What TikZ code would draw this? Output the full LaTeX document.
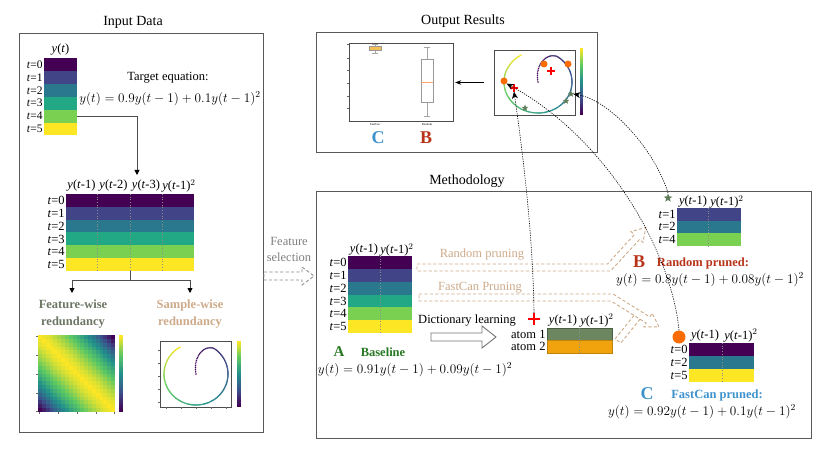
\RequirePackage{fix-cm}
\documentclass[tikz,border=0pt]{standalone}
\usepackage{fontspec}
\setmainfont{Liberation Serif}
\usetikzlibrary{arrows.meta, shapes.geometric, calc}

% viridis rows
\definecolor{vr0}{HTML}{440154}
\definecolor{vr1}{HTML}{414487}
\definecolor{vr2}{HTML}{2A788E}
\definecolor{vr3}{HTML}{22A884}
\definecolor{vr4}{HTML}{7AD151}
\definecolor{vr5}{HTML}{FDE725}
% viridis stops for maps
\definecolor{vs0}{HTML}{440154}
\definecolor{vs1}{HTML}{3B528B}
\definecolor{vs2}{HTML}{21918C}
\definecolor{vs3}{HTML}{5EC962}
\definecolor{vs4}{HTML}{FDE725}
\definecolor{tanline}{RGB}{205,170,138}
\definecolor{fwgray}{RGB}{108,118,100}
\definecolor{basegreen}{RGB}{40,120,35}
\definecolor{randred}{RGB}{183,52,25}
\definecolor{fastblue}{RGB}{62,146,204}
\definecolor{atomgreen}{RGB}{108,134,96}
\definecolor{atomorange}{RGB}{240,163,12}
\definecolor{dotorange}{RGB}{252,108,5}
\definecolor{stargreen}{RGB}{98,126,92}

\newcommand{\ylag}[1]{\textit{y}(\textit{t}-#1)}
\newcommand{\ylagsq}{\textit{y}(\textit{t}-1)$^2$}

% colour "vc" from value in [0,1]
\newcommand{\vircol}[1]{%
  \pgfmathsetmacro\virx{4*min(max(#1,0),0.999)}%
  \pgfmathtruncatemacro\virseg{\virx}%
  \pgfmathtruncatemacro\virpct{100*(1-\virx+\virseg)}%
  \pgfmathtruncatemacro\virnext{\virseg+1}%
  \colorlet{vc}{vs\virseg!\virpct!vs\virnext}}

% colour bar: x1, ytop, x2, ybottom
\newcommand{\vbar}[4]{%
  \foreach \k in {0,...,29} {
    \pgfmathsetmacro\cbv{\k/29}
    \vircol{\cbv}
    \fill[vc] (#1,{#4-(#4-#2)*\k/30}) rectangle (#3,{#4-(#4-#2)*(\k+1)/30-0.3});
  }}

% trajectory dots: cx, cy, rx, ry
\newcommand{\trajdots}[4]{%
  \foreach \k in {0,...,199} {
    \pgfmathsetmacro\ts{\k/199}
    \pgfmathsetmacro\ph{100-340*\ts}
    \pgfmathsetmacro\mm{1-min(\ts/0.14,1)}
    \pgfmathsetmacro\rr{1-\mm*\mm}
    \vircol{\ts}
    \fill[vc] ({#1+#3*\rr*cos(\ph)},{#2-#4*\rr*sin(\ph)}) circle (0.85);
  }}

\begin{document}
\begin{tikzpicture}[x=1pt, y=-1pt,
    panel/.style={draw=black!65, line width=0.9pt, rectangle, inner sep=0pt},
    ptitle/.style={font=\fontsize{14}{16}\selectfont},
    txt/.style={font=\fontsize{12.5}{14}\selectfont, inner sep=1pt},
    eqn/.style={font=\fontsize{13.2}{15}\selectfont, inner sep=1pt},
    cell/.style={rectangle, inner sep=0pt, minimum height=12.9pt},
    rowlab/.style={txt, anchor=east},
    collab/.style={txt, anchor=base},
    divider/.style={draw=black!45, dotted, line width=0.7pt},
    flow/.style={draw=black!70, line width=0.8pt, -{Triangle[length=5pt, width=5pt, color=black]}},
    link/.style={dash pattern=on 1.2pt off 1.2pt, line width=0.6pt, -{Stealth[length=7pt, width=6pt]}},
    hollow/.style={draw=tanline, line width=0.9pt, dash pattern=on 3.2pt off 2.2pt, line join=miter},
    odot/.style={circle, fill=dotorange, inner sep=0pt, minimum size=7pt},
    gstar/.style={star, star points=5, star point ratio=2.3, fill=stargreen, inner sep=0pt, minimum size=7pt},
    tickmark/.style={draw=black!60, line width=0.3pt},
    big/.style={font=\fontsize{18}{20}\selectfont\bfseries, inner sep=0pt}
]
\useasboundingbox (0,0) rectangle (830,449);

% Panels
\node[panel, minimum width=244pt, minimum height=399pt] (inbox) at (141,232.5) {};
\node[ptitle] (intitle) at (133,22) {Input Data};
\node[panel, minimum width=281pt, minimum height=120pt] (outbox) at (456.5,92) {};
\node[ptitle] (outtitle) at (463,21) {Output Results};
\node[panel, minimum width=495pt, minimum height=247pt] (methbox) at (563.5,314.5) {};
\node[ptitle] (methtitle) at (467,181) {Methodology};

% Input series
\node[collab] (ythead) at (60.5,53) {\textit{y}(\textit{t})};
\foreach \i in {0,...,5} {
  \node[cell, minimum width=33pt, fill=vr\i] (in\i) at (60.5,{64.5+12.9*\i}) {};
  \node[rowlab, font=\fontsize{11.5}{13}\selectfont] (inl\i) at (in\i.west) {\textit{t}=\i};
}
\node[txt] (tgt) at (168,78) {Target equation:};
\node[eqn] (tgteq) at (170,99) {$y(t)=0.9y(t-1)+0.1y(t-1)^2$};

% Lagged features
\foreach \i in {0,...,5} {
  \node[cell, minimum width=128pt, fill=vr\i] (lag\i) at (130,{200.4+12.85*\i}) {};
  \node[rowlab] (lagl\i) at (lag\i.west) {\textit{t}=\i};
}
\node[collab] (lh1) at (81.5,189) {\ylag{1}};
\node[collab] (lh2) at (113.5,189) {\ylag{2}};
\node[collab] (lh3) at (146,189) {\ylag{3}};
\node[collab] (lh4) at (179,190) {\ylagsq};
\foreach \x in {97,130,162} \draw[divider] (\x,194) -- (\x,271);

\coordinate (lagin) at (137,175);
\draw[flow] (in4.east) -| (lagin);

% Split into redundancies
\coordinate (split) at (130,280);
\coordinate (fwin) at (72,293);
\coordinate (swin) at (190,293);
\draw[draw=black!70, line width=0.8pt] (lag5.south) -- (split);
\draw[flow] (split) -| (fwin);
\draw[flow] (split) -| (swin);
\node[txt, font=\fontsize{12.5}{17}\selectfont\bfseries, text=fwgray, align=center] (fwtitle) at (73,314) {Feature-wise\\redundancy};
\node[txt, font=\fontsize{12.5}{17}\selectfont\bfseries, text=tanline, align=center] (swtitle) at (190,314) {Sample-wise\\redundancy};

% Correlation map
\foreach \i in {0,...,19}
  \foreach \j in {0,...,19} {
    \pgfmathsetmacro\hd{abs(\i-\j)/19}
    \vircol{1-0.35*\hd-0.65*\hd*\hd}
    \fill[vc] ({38+3.85*\i},{335+3.85*\j}) rectangle ++(3.95,3.95);
  }
\vbar{119}{335}{123}{412}
\foreach \y in {336,355,374,393,411} \draw[tickmark] (38,\y) -- (36,\y);
\foreach \x in {39,58,77,96,114} \draw[tickmark] (\x,412) -- (\x,414);

% Phase portrait
\draw[black!70, line width=0.4pt] (160,341) rectangle (231,407);
\trajdots{196}{374}{32}{31}
\vbar{237}{341}{241}{407}
\foreach \y in {350,363,376,389,402} \draw[tickmark] (160,\y) -- (158,\y);
\foreach \x in {166,181,196,211,226} \draw[tickmark] (\x,407) -- (\x,409);

% Feature selection
\node[txt, text=black!50, align=center, font=\fontsize{12.5}{16}\selectfont] (featsel) at (289,249) {Feature\\selection};
\draw[draw=black!45, line width=0.9pt, dash pattern=on 3.2pt off 2.2pt] (264,272) -- (302,272) -- (302,267) -- (314,276) -- (302,285) -- (302,280) -- (264,280) -- cycle;

% Output: box plot
\node[draw=black!70, line width=0.4pt, rectangle, inner sep=0pt, minimum width=104pt, minimum height=78pt] (boxp) at (401,82.5) {};
\foreach \y in {44,58,70,83,96,108} \draw[tickmark] (349,\y) -- (347,\y);
\draw[black!35, line width=0.5pt] (375,44) -- (375,53) (372,44) -- (378,44) (372,53) -- (378,53);
\draw[black!40, fill=atomorange!70, line width=0.5pt] (369,46.5) rectangle (381,50);
\draw[black!35, line width=0.5pt] (427,47) -- (427,59) (427,102) -- (427,116) (424,47) -- (430,47) (424,116) -- (430,116);
\draw[black!40, line width=0.6pt] (421,59) rectangle (433,102);
\draw[dotorange!60, line width=0.5pt] (421,82) -- (433,82);
\node[font=\fontsize{3}{3}\selectfont, inner sep=0pt] (xfast) at (375,124.5) {FastCan};
\node[font=\fontsize{3}{3}\selectfont, inner sep=0pt] (xrand) at (427,124.5) {Random};
\node[big, text=fastblue] (clab) at (378,138) {C};
\node[big, text=randred] (blab) at (426,138) {B};

% Output: trajectory with picked samples
\node[draw=black!70, line width=0.4pt, rectangle, inner sep=0pt, minimum width=81pt, minimum height=65pt] (traj) at (534.5,82.5) {};
\trajdots{538}{82}{34}{31}
\vbar{580}{48}{583}{115}
\draw[-{Stealth[length=6pt, width=4.5pt]}, line width=0.6pt, shorten <=10pt, shorten >=2pt] (traj.west) -- (boxp.east);
\node[odot] (pd1) at (544,64) {};
\node[odot] (pd2) at (568,64) {};
\node[odot] (pd3) at (504,81) {};
\node[inner sep=0pt, minimum size=7pt] (pc1) at (551,71) {};
\node[inner sep=0pt, minimum size=7pt] (pc2) at (514,88) {};
\foreach \c in {pc1,pc2} \draw[red, line width=1.2pt] (\c.north) -- (\c.south) (\c.west) -- (\c.east);
\node[gstar] (ps1) at (525,108) {};
\node[gstar] (ps2) at (566,101) {};
\node[gstar] (ps3) at (571,94) {};

% Baseline
\foreach \i in {0,...,5} {
  \node[cell, minimum width=64pt, fill=vr\i] (base\i) at (380,{262.4+12.85*\i}) {};
  \node[rowlab] (basel\i) at (base\i.west) {\textit{t}=\i};
}
\node[collab] (bh1) at (364,253) {\ylag{1}};
\node[collab] (bh2) at (397,254) {\ylagsq};
\draw[divider] (380,256) -- (380,333);
\node[font=\fontsize{15}{17}\selectfont\bfseries, text=basegreen, inner sep=0pt] (alab) at (339,352) {A};
\node[txt, font=\fontsize{12.5}{14}\selectfont\bfseries, text=basegreen] (baselab) at (383,352) {Baseline};
\node[eqn] (baseeq) at (415,370) {$y(t)=0.91y(t-1)+0.09y(t-1)^2$};

% Pruning arrows
\node[txt, text=tanline] (randlab) at (482,255) {Random pruning};
\draw[hollow] (417,264) -- (607.5,264) -- (634.4,234.6) -- (631.1,231.6) -- (645.8,227.4) -- (642.9,242.4) -- (639.6,239.4) -- (610.5,271) -- (417,271) -- cycle;
\node[txt, text=tanline] (fastlab) at (480,288) {FastCan Pruning};
\draw[hollow] (419,294) -- (613,294) -- (649.9,317) -- (652.2,313.2) -- (659,326.9) -- (643.8,326.8) -- (646.1,323) -- (611,301) -- (419,301) -- cycle;
\draw[hollow] (634,315.4) -- (615.1,339) -- (620.9,343) -- (640,319.2);

% Dictionary learning
\node[txt] (dict) at (467,321) {Dictionary learning};
\draw[draw=black!55, line width=0.9pt] (431,333) -- (482,333) -- (482,326) -- (496,337) -- (482,348) -- (482,341) -- (431,341) -- cycle;
\node[inner sep=0pt, minimum size=12pt] (rplus) at (534,319) {};
\draw[red, line width=2.3pt] (rplus.north) -- (rplus.south) (rplus.west) -- (rplus.east);
\node[cell, minimum width=65pt, minimum height=12.5pt, fill=atomgreen, draw=atomgreen!70!black, line width=0.6pt] (atom1) at (579.5,334.25) {};
\node[cell, minimum width=65pt, minimum height=12.5pt, fill=atomorange, draw=atomorange!80!black, line width=0.6pt] (atom2) at (579.5,346.75) {};
\node[rowlab] (atoml1) at (atom1.west) {atom 1};
\node[rowlab] (atoml2) at (atom2.west) {atom 2};
\node[collab] (dh1) at (563,323) {\ylag{1}};
\node[collab] (dh2) at (597,324) {\ylagsq};
\draw[divider] (579,328) -- (579,353);

% Random pruned
\node[gstar, minimum size=9pt] (rstar) at (668,198) {};
\foreach \i/\t [count=\n] in {1/1,2/2,4/4} {
  \node[cell, minimum width=64pt, minimum height=12.6pt, fill=vr\i] (rp\n) at (709,{201.7+12.6*\n}) {};
  \node[rowlab] (rpl\n) at (rp\n.west) {\textit{t}=\t};
}
\node[collab] (rh1) at (693,205) {\ylag{1}};
\node[collab] (rh2) at (727,206) {\ylagsq};
\draw[divider] (708,208) -- (708,246);
\node[big, text=randred] (blab2) at (639,262) {B};
\node[txt, font=\fontsize{12.5}{14}\selectfont\bfseries, text=randred] (randpr) at (703,263) {Random pruned:};
\node[eqn] (randeq) at (710,280) {$y(t)=0.8y(t-1)+0.08y(t-1)^2$};

% FastCan pruned
\node[circle, fill=dotorange, inner sep=0pt, minimum size=13pt] (fcdot) at (679,337) {};
\foreach \i [count=\n] in {0,2,5} {
  \node[cell, minimum width=65pt, minimum height=13pt, fill=vr\i] (fp\n) at (721.5,{343-6.5+13*\n}) {};
  \node[rowlab] (fpl\n) at (fp\n.west) {\textit{t}=\i};
}
\node[collab] (fh1) at (705,338) {\ylag{1}};
\node[collab] (fh2) at (741,339) {\ylagsq};
\draw[divider] (722,343) -- (722,382);
\node[big, text=fastblue] (clab2) at (647,394) {C};
\node[txt, font=\fontsize{12.5}{14}\selectfont\bfseries, text=fastblue] (fastpr) at (717,395) {FastCan pruned:};
\node[eqn] (fasteq) at (702,412) {$y(t)=0.92y(t-1)+0.1y(t-1)^2$};

% Links back to the trajectory
\draw[link] (rplus.north) .. controls (533,230) and (521,140) .. (pc2.south);
\draw[link] (fcdot.north) .. controls (672,255) and (610,140) .. (pd3.south east);
\draw[link] (rstar.north) .. controls (655,150) and (610,100) .. (ps3.east);
\end{tikzpicture}
\end{document}
